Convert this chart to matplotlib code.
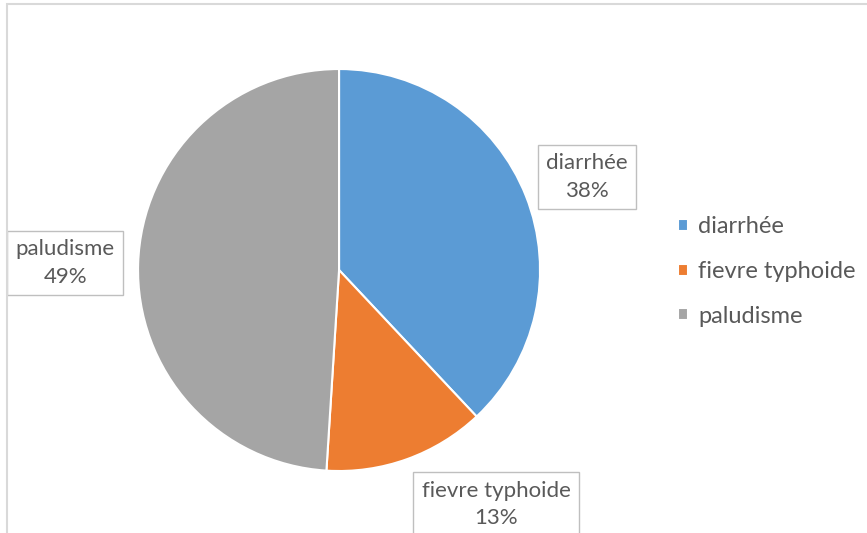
import matplotlib.pyplot as plt
from matplotlib.patches import Rectangle

maladies = ['diarrhée', 'fievre typhoide', 'paludisme']
pourcentages = [38, 13, 49]
couleurs = ['#5B9BD5', '#ED7D31', '#A5A5A5']
# label box centres, in units of the pie radius
pos_etiquettes = [(1.234, 0.463), (0.781, -1.165), (-1.363, 0.035)]

plt.rcParams['font.family'] = ['Lato', 'DejaVu Sans']
gris = '#595959'

fig = plt.figure(figsize=(8.67, 5.33), dpi=100)
fig.patches.append(Rectangle((6.5 / 867, -0.1), 1.2, 1.1 - 4.5 / 533,
                             transform=fig.transFigure, fill=False,
                             edgecolor='#D9D9D9', linewidth=1.5))

ax = fig.add_axes([0.1592, 0.1163, 0.4637, 0.7542])
wedges, _ = ax.pie(pourcentages, colors=couleurs, startangle=90, counterclock=False,
                   wedgeprops=dict(edgecolor='white', linewidth=1.5))
ax.set_xlim(-1, 1)
ax.set_ylim(-1, 1)
ax.set_aspect('equal')
ax.axis('off')

for nom, p, (x, y) in zip(maladies, pourcentages, pos_etiquettes):
    ax.text(x, y, f'{nom}\n{p}%', ha='center', va='center', fontsize=16,
            color=gris, linespacing=1.45, clip_on=False,
            bbox=dict(boxstyle='square,pad=0.38', facecolor='white',
                      edgecolor='#BFBFBF', linewidth=1))

fig.legend(wedges, maladies, loc='upper left', bbox_to_anchor=(0.768, 0.616),
           frameon=False, fontsize=17, labelcolor=gris, handlelength=0.42,
           handleheight=0.42, handletextpad=0.45, labelspacing=1.0,
           borderpad=0)

fig.savefig('out.png', dpi=100)
